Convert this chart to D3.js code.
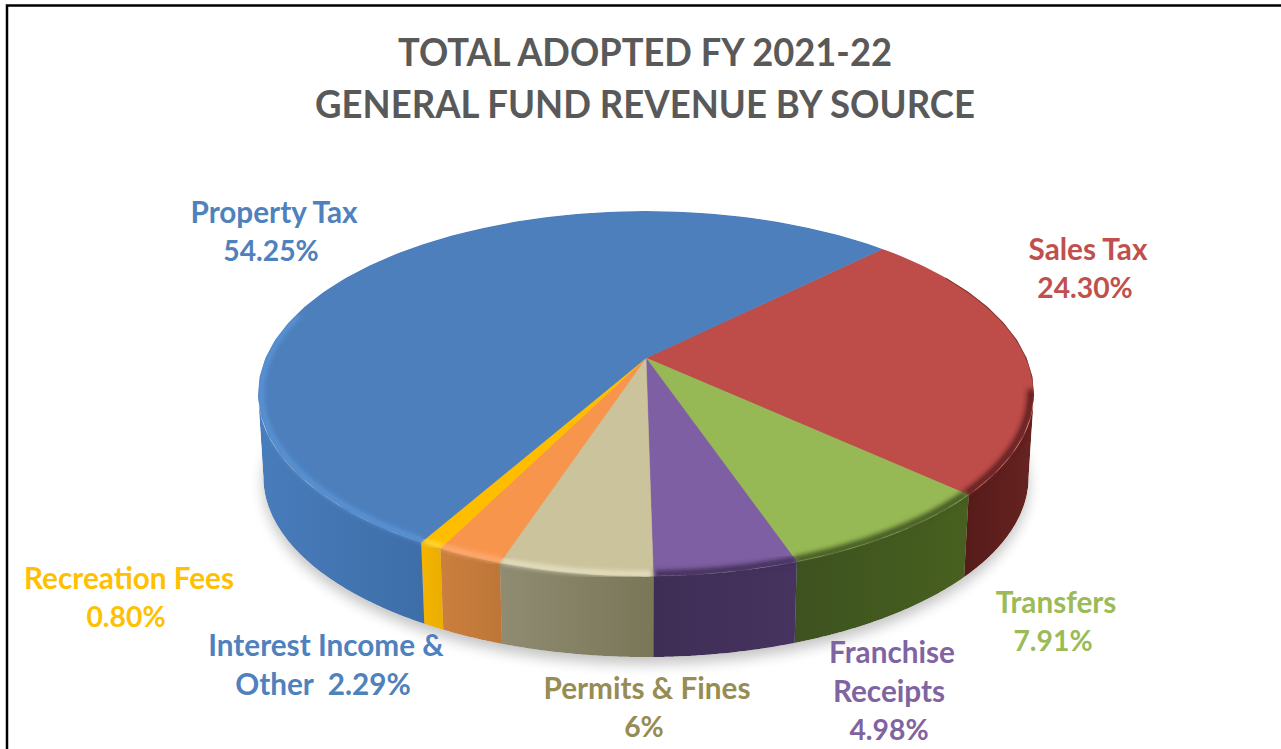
<!DOCTYPE html>
<html>
<head>
<meta charset="utf-8">
<script src="https://cdn.jsdelivr.net/npm/d3@7"></script>
<style>
  html, body { margin: 0; background: #fff; }
  svg { display: block; }
  text { font-family: Lato, "Open Sans", sans-serif; font-weight: 700; text-anchor: middle; white-space: pre; }
</style>
</head>
<body>
<div id="container"></div>
<script>
/* DATA */
const titleLines = ["TOTAL ADOPTED FY 2021-22", "GENERAL FUND REVENUE BY SOURCE"];
const sources = ["Sales Tax", "Transfers", "Franchise Receipts", "Permits & Fines", "Interest Income & Other", "Recreation Fees", "Property Tax"];
// Permits is labelled 6% but its slice reads about 5.3%
const percents = [24.30, 7.91, 4.98, 5.3, 2.29, 0.80, 54.25];
const labelLines = [
  ["Sales Tax", "24.30%"],
  ["Transfers", "7.91%"],
  ["Franchise", "Receipts", "4.98%"],
  ["Permits & Fines", "6%"],
  ["Interest Income &", "Other  2.29%"],
  ["Recreation Fees", "0.80%"],
  ["Property Tax", "54.25%"]
];

/* COLOURS */
const topColors  = ["#be4d4a", "#97b955", "#7f5fa3", "#cbc39b", "#f8954d", "#ffbd00", "#4c7fbc"];
const wallStart  = ["#561b19", "#3d5220", "#3e2e55", "#8f8c72", "#cc7f3e", "#f5b400", "#487cbb"];
const wallEnd    = ["#662321", "#48601f", "#46335f", "#7a7658", "#bd7638", "#eaae00", "#3d6ea8"];
const rimColors  = ["#5e1f1d", "#3f5520", "#3f2e56", "#f0ead0", "#ffb27c", "#ffe04a", "#5f9be0"];
const textColors = ["#c0504d", "#9bbb59", "#8064a2", "#968c54", "#4f81bd", "#ffc000", "#4f81bd"];

/* LAYOUT */
const width = 1281, height = 749;
const cx = 646, cy = 358;          // where the slices meet
const R = 380.6, S = 175.6;        // circle size before perspective
const k = 0.195;                   // perspective strength
const depth = 84, bottomScale = 0.986;
const titleY = [66, 118], titleSize = 38.5, titleWidths = [494, 660];
const labelSize = 29.7, numberSize = 28.3, labelGap = 39;
// first line centre of each label
const labelAnchors = [[1088, 249], [1056, 602], [892, 652], [647, 688], [326, 645], [129, 578], [274, 212]];

const svg = d3.select("#container").append("svg")
  .attr("width", width)
  .attr("height", height);

const defs = svg.append("defs");
defs.append("filter").attr("id", "shadow")
  .attr("x", "-10%").attr("y", "-10%").attr("width", "120%").attr("height", "125%")
  .append("feGaussianBlur").attr("stdDeviation", 7);
defs.append("filter").attr("id", "soft")
  .attr("x", "-20%").attr("y", "-20%").attr("width", "140%").attr("height", "140%")
  .append("feGaussianBlur").attr("stdDeviation", 2.6);

/* FRAME */
svg.append("path")
  .attr("d", `M7,${height} V5.5 H${width}`)
  .attr("fill", "none")
  .attr("stroke", "#000")
  .attr("stroke-width", 2.5);

/* PROJECTION - circle to perspective ellipse, angle clockwise from the back */
function project(a, r = 1, ring = 0) {
  const u = r * Math.sin(a), v = r * Math.cos(a), d = 1 + k * v;
  const s = ring ? bottomScale : 1;
  return [cx + s * R * u / d, cy + (ring ? depth : 0) - s * S * v / d];
}
const line = d3.line();
const sample = (a0, a1, r, ring) =>
  d3.range(0, 61).map(i => project(a0 + (a1 - a0) * i / 60, r, ring));

/* PIE */
const deg = Math.PI / 180;
const pie = d3.pie().sort(null).startAngle(45 * deg).endAngle(405 * deg);
const arcs = pie(percents);

// the wall only shows between the two widest points of the ellipse
const wallFrom = Math.PI - Math.acos(k), wallTo = Math.PI + Math.acos(k);

const topPath = d => line([[cx, cy], ...sample(d.startAngle, d.endAngle, 1, 0)]) + "Z";
const wallPath = d => {
  const a0 = Math.max(d.startAngle, wallFrom), a1 = Math.min(d.endAngle, wallTo);
  return line([...sample(a0, a1, 1, 0), ...sample(a1, a0, 1, 1)]) + "Z";
};

// wall gradients
arcs.forEach((d, i) => {
  const g = defs.append("linearGradient").attr("id", `wall${i}`);
  g.append("stop").attr("offset", "0%").attr("stop-color", wallStart[i]);
  g.append("stop").attr("offset", "100%").attr("stop-color", wallEnd[i]);
});

/* SHADOW */
svg.append("path")
  .attr("d", line(sample(0, 2 * Math.PI, 1, 1)) + "Z")
  .attr("transform", "translate(0,7)")
  .attr("fill", "#000")
  .attr("opacity", 0.24)
  .attr("filter", "url(#shadow)");

/* BODY */
const clip = defs.append("clipPath").attr("id", "body");
clip.append("path").attr("d", line(sample(0, 2 * Math.PI, 1, 0)) + "Z");
arcs.forEach(d => clip.append("path").attr("d", wallPath(d)));

const body = svg.append("g").attr("clip-path", "url(#body)");

body.selectAll("path.wall")
  .data(arcs)
  .join("path")
    .attr("class", "wall")
    .attr("d", wallPath)
    .attr("fill", (d, i) => `url(#wall${i})`);

body.selectAll("path.top")
  .data(arcs)
  .join("path")
    .attr("class", "top")
    .attr("d", topPath)
    .attr("fill", (d, i) => topColors[i])
    .attr("stroke", (d, i) => topColors[i])
    .attr("stroke-width", 0.5);

// soft edge round the rim: light on the left, dark on the right
body.selectAll("path.rim")
  .data(arcs)
  .join("path")
    .attr("class", "rim")
    .attr("d", (d, i) => {
      const from = i === 0 ? 100 * deg : d.startAngle;
      const to = i === 6 ? 285 * deg : d.endAngle;
      return line(sample(from, to, 0.992, 0));
    })
    .attr("fill", "none")
    .attr("stroke", (d, i) => rimColors[i])
    .attr("stroke-width", (d, i) => i < 3 ? 7 : 4)
    .attr("filter", "url(#soft)");

// thin dark edge where the red slice turns away at the back right
body.append("path")
  .attr("d", line(sample(60 * deg, 102 * deg, 1, 0)))
  .attr("fill", "none")
  .attr("stroke", rimColors[0])
  .attr("stroke-width", 2)
  .attr("opacity", 0.7);

/* TITLE */
svg.selectAll("text.title")
  .data(titleLines)
  .join("text")
    .attr("class", "title")
    .attr("x", 645)
    .attr("y", (d, i) => titleY[i])
    .attr("fill", "#595959")
    .attr("textLength", (d, i) => titleWidths[i])
    .attr("lengthAdjust", "spacingAndGlyphs")
    .style("font-size", titleSize + "px")
    .text(d => d);

/* LABELS */
labelLines.forEach((lines, i) => {
  svg.append("text")
    .attr("class", "label")
    .attr("aria-label", sources[i])
    .attr("fill", textColors[i])
    .selectAll("tspan")
    .data(lines)
    .join("tspan")
      .attr("x", (d, j) => labelAnchors[i][0] - (j ? 3 : 0))
      .attr("y", (d, j) => labelAnchors[i][1] + j * labelGap)
      .attr("dy", "0.37em")
      .style("font-size", d => (/^[\d.]+%$/.test(d) ? numberSize : labelSize) + "px")
      .text(d => d);
});
</script>
</body>
</html>
